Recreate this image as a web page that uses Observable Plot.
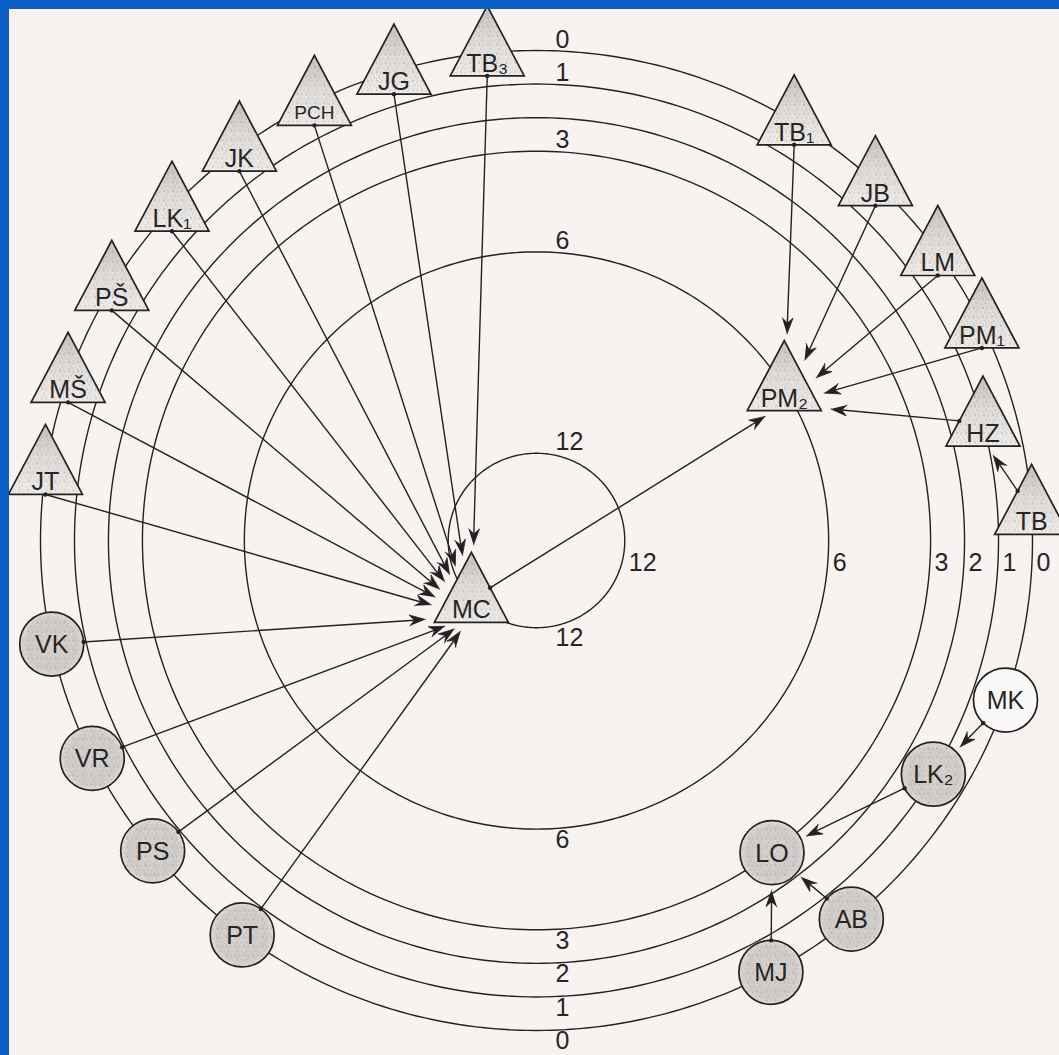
<!DOCTYPE html>
<html><head><meta charset="utf-8">
<script src="https://cdn.jsdelivr.net/npm/d3@7"></script>
<script src="https://cdn.jsdelivr.net/npm/@observablehq/plot@0.6"></script>
<style>
html,body{margin:0;padding:0;background:#0a5fc6;width:1059px;height:1055px;overflow:hidden}
#paper{position:absolute;left:9px;top:9px;width:1050px;height:1046px;overflow:hidden;background:#f8f3f1}
#paper svg{display:block;background:transparent;max-width:none}
</style></head><body><div id="paper"></div>
<script>
// ---------------- data ----------------
const nodeIds    = ["TB3","JG","PCH","JK","LK1","PSh","MSh","JT","VK","VR","PS","PT","MJ","AB","MK","LK2","LO","TB1","JB","LM","PM1","HZ","TB","PM2","MC"];
const nodeLabels = ["TB₃","JG","PCH","JK","LK₁","PŠ","MŠ","JT","VK","VR","PS","PT","MJ","AB","MK","LK₂","LO","TB₁","JB","LM","PM₁","HZ","TB","PM₂","MC"];
const nodeRings  = [0,0,0,0,0,0,0,0, 0,0,0,0,0,0,0,1,3, 0,0,0,0,1,0,6,12];
const nodeAngles = [-5.7,-16.7,-26.6,-36.8,-47.3,-58.9,-70.8,-81.9,
                    -102.2,-116.4,-129.3,-143.6,151.8,140.6,109.0,120.8,143.3,
                    31.3,43.1,54.0,63.9,75.1,86.6,58.0,-132.5];
const nodeShapes = ["triangle","triangle","triangle","triangle","triangle","triangle","triangle","triangle",
                    "circle","circle","circle","circle","circle","circle","circle","circle","circle",
                    "triangle","triangle","triangle","triangle","triangle","triangle","triangle","triangle"];
const nodeShaded = [1,1,1,1,1,1,1,1, 1,1,1,1,1,1,0,1,1, 1,1,1,1,1,1,1,1];

const edgeFrom = ["TB3","JG","PCH","JK","LK1","PSh","MSh","JT","VK","VR","PS","PT",
                  "MC","TB1","JB","LM","PM1","HZ","TB","MK","LK2","AB","MJ"];
const edgeTo   = ["MC","MC","MC","MC","MC","MC","MC","MC","MC","MC","MC","MC",
                  "PM2","PM2","PM2","PM2","PM2","PM2","HZ","LK2","LO","LO","LO"];

const ringValues  = [0,1,2,3,6,12];
const ringTop     = [0,1,3,6,12];
const ringRight   = [12,6,3,2,1,0];
const ringBottom  = [12,6,3,2,1,0];

// ---------------- layout ----------------
const W = 1050, H = 1046, UX = 496, UY = 490, CX = 527, CY = 531;
const rScale = d3.scaleLinear().domain([0, 12]).range([1, 0.178]);
const rad = a => a * Math.PI / 180;
// data units <-> pixel offsets (y up)
const toPx = ([x, y]) => [x * UX, y * UY];
const toData = ([X, Y]) => [X / UX, Y / UY];

const nodes = nodeIds.map((id, i) => {
  const r = rScale(nodeRings[i]), a = rad(nodeAngles[i]);
  const x = r * Math.sin(a), y = r * Math.cos(a);
  return {id, label: nodeLabels[i], shape: nodeShapes[i], shaded: nodeShaded[i], x, y, P: toPx([x, y])};
});
const byId = new Map(nodes.map(d => [d.id, d]));

// shape geometry (pixels, y up, relative to centroid)
const TRI = [[0, 47], [37, -23], [-37, -23]];
const CR = 32;
const AIM = 17; // triangle targets are aimed a little below their centroid
function rayExit(n, dx, dy, ox = 0, oy = 0) {
  const L = Math.hypot(dx, dy), ux = dx / L, uy = dy / L;
  const [nx0, ny0] = n.P;
  if (n.shape === "circle") return [nx0 + ux * CR, ny0 + uy * CR];
  let best = Infinity;
  for (let i = 0; i < 3; i++) {
    const P = [TRI[i][0] - ox, TRI[i][1] - oy], Q = [TRI[(i + 1) % 3][0] - ox, TRI[(i + 1) % 3][1] - oy];
    const ex = Q[0] - P[0], ey = Q[1] - P[1];
    const det = -ux * ey + ex * uy;
    if (Math.abs(det) < 1e-9) continue;
    const t = (-P[0] * ey + ex * P[1]) / det;
    const s = (ux * P[1] - uy * P[0]) / det;
    if (t > 0 && s >= -1e-6 && s <= 1 + 1e-6) best = Math.min(best, t);
  }
  return [nx0 + ox + ux * best, ny0 + oy + uy * best];
}

const edges = [], heads = [];
edgeFrom.forEach((f, i) => {
  const S = byId.get(f), T = byId.get(edgeTo[i]);
  const aimOy = T.shape === "triangle" ? -AIM : 0;
  const ax = T.P[0], ay = T.P[1] + aimOy;
  let st;
  if (S.shape === "triangle" && ay < S.P[1] - 23) st = [S.P[0], S.P[1] - 23];
  else st = rayExit(S, ax - S.P[0], ay - S.P[1]);
  let tp = rayExit(T, st[0] - ax, st[1] - ay, 0, aimOy);
  const dx = tp[0] - st[0], dy = tp[1] - st[1], L = Math.hypot(dx, dy);
  const ux = dx / L, uy = dy / L, nx = -uy, ny = ux;
  const gap = T.shape === "triangle" ? 11 : 6;
  tp = [tp[0] - ux * gap, tp[1] - uy * gap];
  const HL = 16, HW = 5.5, NT = 5;
  const notch = [tp[0] - ux * (HL - NT), tp[1] - uy * (HL - NT)];
  const s0 = toData(st), e0 = toData(notch);
  edges.push({sx: s0[0], sy: s0[1], ex: e0[0], ey: e0[1]});
  const id = "h" + i;
  [tp,
   [tp[0] - ux * HL + nx * HW, tp[1] - uy * HL + ny * HW],
   notch,
   [tp[0] - ux * HL - nx * HW, tp[1] - uy * HL - ny * HW]
  ].forEach(p => { const d = toData(p); heads.push({id, x: d[0], y: d[1]}); });
});

const ringPts = [];
for (const v of ringValues) {
  const r = rScale(v);
  for (let a = 0; a <= 360; a += 1) ringPts.push({ring: v, x: r * Math.sin(rad(a)), y: r * Math.cos(rad(a))});
}

const tri = {draw(ctx, size) {
  const s = Math.sqrt(size / Math.PI) / 35;
  ctx.moveTo(0, -47 * s); ctx.lineTo(37 * s, 23 * s); ctx.lineTo(-37 * s, 23 * s); ctx.closePath();
}};

const triNodes = nodes.filter(d => d.shape === "triangle");
const cirNodes = nodes.filter(d => d.shape === "circle");
const INK = "#222";
const FONT = "Liberation Sans, Arial, sans-serif";

const chart = Plot.plot({
  width: W, height: H, margin: 0,
  x: {domain: [-CX / UX, (W - CX) / UX], axis: null},
  y: {domain: [-(H - CY) / UY, CY / UY], axis: null},
  style: {background: "transparent", fontFamily: FONT, overflow: "hidden"},
  marks: [
    Plot.line(ringPts, {x: "x", y: "y", z: "ring", stroke: INK, strokeWidth: 1.4}),
    Plot.link(edges, {x1: "sx", y1: "sy", x2: "ex", y2: "ey", stroke: INK, strokeWidth: 1.4}),
    Plot.line(heads, {x: "x", y: "y", z: "id", fill: INK, stroke: INK, strokeWidth: 0.8, strokeLinejoin: "miter"}),
    Plot.dot(triNodes, {x: "x", y: "y", r: 35, symbol: tri, fill: "url(#triG)", stroke: "none", ariaLabel: "nodes"}),
    Plot.dot(triNodes, {x: "x", y: "y", r: 35, symbol: tri, fill: "url(#stip)", stroke: INK, strokeWidth: 1.7}),
    Plot.dot(cirNodes, {x: "x", y: "y", r: CR, fill: d => d.shaded ? "url(#cirG)" : "#fbf9f7", stroke: "none", ariaLabel: "nodes"}),
    Plot.dot(cirNodes.filter(d => d.shaded), {x: "x", y: "y", r: CR, fill: "url(#stip)", stroke: "none"}),
    Plot.dot(cirNodes, {x: "x", y: "y", r: CR, fill: "none", stroke: INK, strokeWidth: 1.7}),
    Plot.dot(edges, {x: "sx", y: "sy", r: 2.2, fill: INK}),
    Plot.text(triNodes, {x: "x", y: "y", text: "label", dy: 11, fill: "#262626",
      fontSize: d => (d.label.length > 2 && !/[₀-₉]/.test(d.label)) ? 19 : 25}),
    Plot.text(cirNodes, {x: "x", y: "y", text: "label", dy: 1, fill: "#262626", fontSize: 25}),
    Plot.text(ringTop, {x: 0, y: d => rScale(d), text: d => String(d), textAnchor: "start", lineAnchor: "bottom", dx: 19, dy: -3, fontSize: 25, fill: "#262626"}),
    Plot.text(ringBottom, {x: 0, y: d => -rScale(d), text: d => String(d), textAnchor: "start", lineAnchor: "top", dx: 19, dy: 1, fontSize: 25, fill: "#262626"}),
    Plot.text(ringRight, {x: d => rScale(d), y: 0, text: d => String(d), textAnchor: "start", lineAnchor: "middle", dx: 4, dy: 22, fontSize: 25, fill: "#262626"})
  ]
});

const svg = d3.select(chart);
const defs = svg.insert("defs", ":first-child");
const tg = defs.append("linearGradient").attr("id", "triG").attr("x1", 0).attr("y1", 0).attr("x2", 0).attr("y2", 1);
tg.append("stop").attr("offset", "0%").attr("stop-color", "#c4c1be");
tg.append("stop").attr("offset", "45%").attr("stop-color", "#dedbd8");
tg.append("stop").attr("offset", "100%").attr("stop-color", "#efecea");
const cg = defs.append("radialGradient").attr("id", "cirG");
cg.append("stop").attr("offset", "0%").attr("stop-color", "#d6d3d0");
cg.append("stop").attr("offset", "80%").attr("stop-color", "#d0cdca");
cg.append("stop").attr("offset", "100%").attr("stop-color", "#e0dddb");
const pat = defs.append("pattern").attr("id", "stip").attr("width", 9).attr("height", 9).attr("patternUnits", "userSpaceOnUse");
[[1,1,.7],[5,2,.5],[3,5,.6],[7,6,.45],[0.5,7.5,.4],[6,0.3,.35],[4,8,.4]].forEach(([cx, cy, r]) =>
  pat.append("circle").attr("cx", cx).attr("cy", cy).attr("r", r).attr("fill", "#3a3a3a").attr("fill-opacity", 0.5));
svg.selectAll('g[aria-label="nodes"]').style("filter", "drop-shadow(2px 3px 2px rgba(0,0,0,0.2))");

document.getElementById("paper").append(chart);
</script>
</body></html>
